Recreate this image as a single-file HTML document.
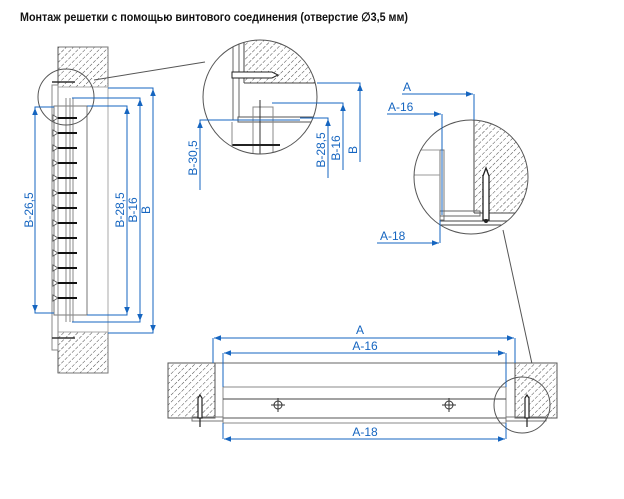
<!DOCTYPE html>
<html><head><meta charset="utf-8"><style>
html,body{margin:0;padding:0;background:#fff;}
svg{display:block;}
text{font-family:"Liberation Sans",sans-serif;}
</style></head><body>
<svg width="624" height="499" viewBox="0 0 624 499" xmlns="http://www.w3.org/2000/svg">
<defs>
<pattern id="h" width="5" height="5" patternUnits="userSpaceOnUse" patternTransform="rotate(45)">
<rect width="5" height="5" fill="#fff"/><line x1="0" y1="0" x2="0" y2="3.5" stroke="#333" stroke-width="0.9"/>
</pattern>
<marker id="a" viewBox="0 0 10 10" refX="10" refY="5" markerWidth="7" markerHeight="7" orient="auto-start-reverse"><path d="M0,1 L10,5 L0,9 z" fill="#1565c0"/></marker>
<g id="bl"><path d="M53 -3 L58 0 L53 3 Z" fill="#fff" stroke="#555" stroke-width="0.8"/><line x1="58" y1="0" x2="77" y2="0" stroke="#111" stroke-width="2"/></g>
</defs>
<text x="20" y="21" font-size="12" font-weight="bold" fill="#111" textLength="388" lengthAdjust="spacingAndGlyphs">Монтаж решетки с помощью винтового соединения (отверстие ∅3,5 мм)</text>

<!-- LEFT VIEW -->
<rect x="58" y="47" width="50" height="40" fill="url(#h)" stroke="#777"/>
<rect x="58" y="332" width="50" height="41" fill="url(#h)" stroke="#777"/>
<rect x="58" y="87" width="50" height="245" fill="none" stroke="#aaa"/>
<line x1="58" y1="47" x2="58" y2="373" stroke="#555"/>
<rect x="54" y="106" width="33" height="209" fill="#fff" stroke="#777"/>
<rect x="52" y="85" width="6" height="265" fill="none" stroke="#888"/>
<g stroke="#888"><line x1="66" y1="98" x2="66" y2="322"/><line x1="70" y1="98" x2="70" y2="322"/><line x1="73" y1="98" x2="73" y2="322"/></g>
<use href="#bl" y="118"/><use href="#bl" y="133"/><use href="#bl" y="148"/><use href="#bl" y="163"/><use href="#bl" y="178"/><use href="#bl" y="193"/><use href="#bl" y="208"/><use href="#bl" y="223"/><use href="#bl" y="238"/><use href="#bl" y="253"/><use href="#bl" y="268"/><use href="#bl" y="283"/><use href="#bl" y="298"/>
<g stroke="#333" stroke-width="1.5"><line x1="52" y1="82" x2="75" y2="82"/><line x1="52" y1="338" x2="75" y2="338"/></g>
<circle cx="66" cy="97" r="28" fill="none" stroke="#555"/>
<line x1="94" y1="80" x2="205" y2="62" stroke="#555"/>
<g stroke="#1565c0" fill="none">
<polyline points="54,107 35,107 35,313 54,313"/>
<line x1="35" y1="108" x2="35" y2="312" marker-start="url(#a)" marker-end="url(#a)"/>
<polyline points="87,106 127,106 127,315 87,315"/>
<line x1="127" y1="107" x2="127" y2="314" marker-start="url(#a)" marker-end="url(#a)"/>
<polyline points="72,98 140,98 140,322 72,322"/>
<line x1="140" y1="99" x2="140" y2="321" marker-start="url(#a)" marker-end="url(#a)"/>
<polyline points="108,88 153,88 153,333 108,333"/>
<line x1="153" y1="89" x2="153" y2="332" marker-start="url(#a)" marker-end="url(#a)"/>
</g>
<g fill="#1565c0" font-size="12">
<text transform="translate(33,210) rotate(-90)" text-anchor="middle">B-26,5</text>
<text transform="translate(124,210) rotate(-90)" text-anchor="middle">B-28,5</text>
<text transform="translate(137,210) rotate(-90)" text-anchor="middle">B-16</text>
<text transform="translate(150,210) rotate(-90)" text-anchor="middle">B</text>
</g>

<!-- MIDDLE DETAIL -->
<clipPath id="c1"><circle cx="260" cy="97" r="57"/></clipPath>
<g clip-path="url(#c1)">
<rect x="244" y="30" width="80" height="53" fill="url(#h)"/>
<line x1="244" y1="83" x2="320" y2="83" stroke="#444"/>
<line x1="244" y1="40" x2="244" y2="83" stroke="#444"/>
<rect x="233" y="40" width="6" height="80" fill="none" stroke="#666"/>
<path d="M232 72 L272 72 L278 75 L272 78 L232 78 Z" fill="#fff" stroke="#222"/>
<rect x="238" y="117" width="82" height="5" fill="#fff" stroke="#555"/>
<rect x="253" y="107" width="20" height="50" fill="none" stroke="#888"/>
<line x1="260" y1="100" x2="260" y2="170" stroke="#333"/>
<line x1="232" y1="145" x2="280" y2="145" stroke="#222" stroke-width="2"/>
<line x1="232" y1="122" x2="232" y2="160" stroke="#888"/>
</g>
<circle cx="260" cy="97" r="57" fill="none" stroke="#555"/>
<g stroke="#1565c0" fill="none">
<polyline points="317,83 360,83 360,162"/>
<line x1="360" y1="84" x2="360" y2="160" marker-start="url(#a)"/>
<polyline points="272,103 343,103 343,170"/>
<line x1="343" y1="104" x2="343" y2="168" marker-start="url(#a)"/>
<polyline points="300,118 328,118 328,178"/>
<line x1="328" y1="119" x2="328" y2="176" marker-start="url(#a)"/>
<polyline points="300,120 200,120 200,190"/>
<line x1="200" y1="121" x2="200" y2="188" marker-start="url(#a)"/>
</g>
<g fill="#1565c0" font-size="12">
<text transform="translate(197,158) rotate(-90)" text-anchor="middle">B-30,5</text>
<text transform="translate(325,150) rotate(-90)" text-anchor="middle">B-28,5</text>
<text transform="translate(340,148) rotate(-90)" text-anchor="middle">B-16</text>
<text transform="translate(357,150) rotate(-90)" text-anchor="middle">B</text>
</g>

<!-- RIGHT DETAIL -->
<clipPath id="c2"><circle cx="471" cy="177" r="57"/></clipPath>
<g clip-path="url(#c2)">
<rect x="474" y="118" width="60" height="95" fill="url(#h)"/>
<line x1="474" y1="118" x2="474" y2="213" stroke="#444"/>
<line x1="474" y1="213" x2="530" y2="213" stroke="#444"/>
<rect x="440" y="150" width="4" height="70" fill="none" stroke="#777"/>
<line x1="410" y1="150" x2="440" y2="150" stroke="#999"/>
<line x1="410" y1="175" x2="440" y2="175" stroke="#999"/>
<rect x="440" y="211" width="40" height="5" fill="none" stroke="#666"/>
<rect x="440" y="221" width="78" height="4" fill="none" stroke="#444"/>
<path d="M483 176 L486 168 L489 176 L489 220 L483 220 Z" fill="#fff" stroke="#222" stroke-width="1.3"/>
<circle cx="486" cy="221" r="2" fill="#222"/>
</g>
<circle cx="471" cy="177" r="57" fill="none" stroke="#555"/>
<line x1="503" y1="230" x2="534" y2="373" stroke="#555"/>
<g stroke="#1565c0" fill="none">
<line x1="402" y1="94" x2="473" y2="94" marker-end="url(#a)"/>
<line x1="474" y1="94" x2="474" y2="120"/>
<line x1="387" y1="114" x2="441" y2="114" marker-end="url(#a)"/>
<line x1="442" y1="114" x2="442" y2="215"/>
<line x1="377" y1="243" x2="439" y2="243" marker-end="url(#a)"/>
<line x1="440" y1="220" x2="440" y2="243"/>
</g>
<g fill="#1565c0" font-size="12">
<text x="403" y="91">A</text>
<text x="388" y="111">A-16</text>
<text x="380" y="240">A-18</text>
</g>

<!-- BOTTOM VIEW -->
<rect x="168" y="363" width="47" height="55" fill="url(#h)" stroke="#555"/>
<rect x="515" y="363" width="42" height="55" fill="url(#h)" stroke="#555"/>
<line x1="215" y1="363" x2="515" y2="363" stroke="#666"/>
<rect x="223" y="387" width="283" height="36" fill="#fff" stroke="#888"/>
<line x1="223" y1="399" x2="506" y2="399" stroke="#444"/>
<line x1="223" y1="418" x2="506" y2="418" stroke="#555"/>
<rect x="192" y="417" width="31" height="4" fill="none" stroke="#777"/>
<rect x="506" y="417" width="40" height="4" fill="none" stroke="#777"/>
<g stroke="#222" fill="#fff" stroke-width="1.2">
<path d="M198 398 L200 395 L202 398 L202 418 L198 418 Z"/><line x1="200" y1="418" x2="200" y2="427"/>
<path d="M525 398 L527 395 L529 398 L529 418 L525 418 Z"/><line x1="527" y1="418" x2="527" y2="427"/>
</g>
<g stroke="#333" fill="none">
<circle cx="278" cy="405" r="4"/><line x1="271" y1="405" x2="285" y2="405"/><line x1="278" y1="398" x2="278" y2="412"/>
<circle cx="449" cy="405" r="4"/><line x1="442" y1="405" x2="456" y2="405"/><line x1="449" y1="398" x2="449" y2="412"/>
</g>
<circle cx="522" cy="405" r="28" fill="none" stroke="#555"/>
<g stroke="#1565c0" fill="none">
<line x1="213" y1="338" x2="213" y2="363"/><line x1="515" y1="338" x2="515" y2="363"/>
<line x1="214" y1="338" x2="514" y2="338" marker-start="url(#a)" marker-end="url(#a)"/>
<line x1="223" y1="353" x2="223" y2="387"/><line x1="506" y1="353" x2="506" y2="387"/>
<line x1="224" y1="353" x2="505" y2="353" marker-start="url(#a)" marker-end="url(#a)"/>
<line x1="223" y1="423" x2="223" y2="439"/><line x1="506" y1="423" x2="506" y2="439"/>
<line x1="224" y1="439" x2="505" y2="439" marker-start="url(#a)" marker-end="url(#a)"/>
</g>
<g fill="#1565c0" font-size="12" text-anchor="middle">
<text x="360" y="334">A</text>
<text x="365" y="350">A-16</text>
<text x="365" y="436">A-18</text>
</g>
</svg>
</body></html>
